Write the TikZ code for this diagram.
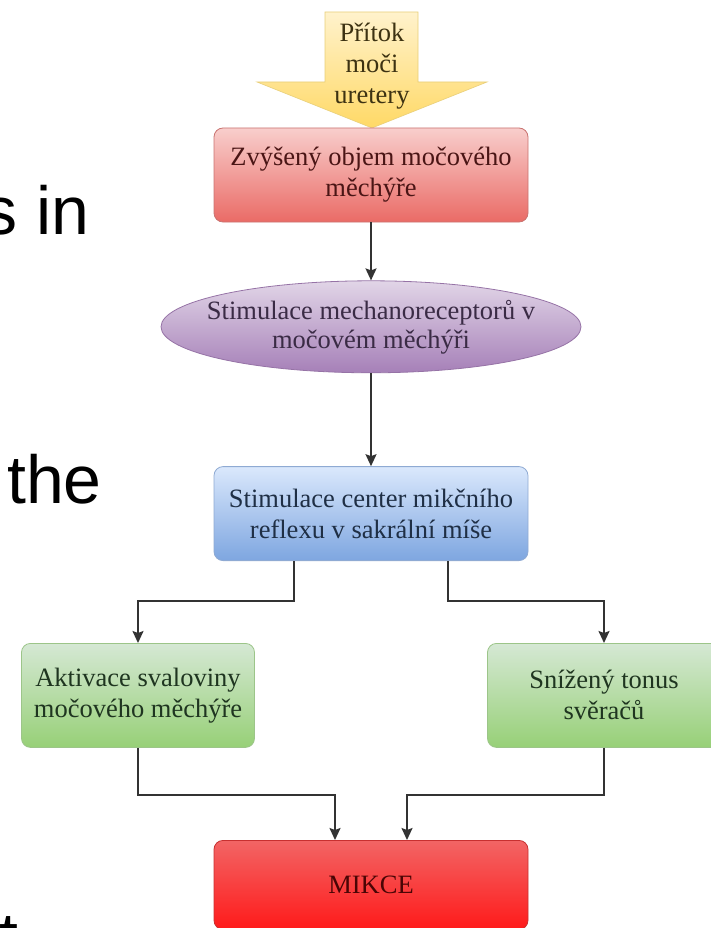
\documentclass[tikz,border=0pt]{standalone}
\usepackage{fontspec}
\setmainfont{Liberation Serif}
\newfontfamily\slidefont{Liberation Sans}
\usepackage{tikz}
\usetikzlibrary{arrows.meta,positioning,shapes.geometric,calc}
\definecolor{MXyelTop}{HTML}{FFF2CC}
\definecolor{MXyelBot}{HTML}{FFD966}
\definecolor{MXyelLine}{HTML}{E8CF7A}
\definecolor{MXyelText}{HTML}{3D3212}
\definecolor{MXredTop}{HTML}{F8CECC}
\definecolor{MXredBot}{HTML}{EA6B66}
\definecolor{MXredLine}{HTML}{C97370}
\definecolor{MXredText}{HTML}{4A1515}
\definecolor{MXpurTop}{HTML}{E1D5E7}
\definecolor{MXpurBot}{HTML}{A680B8}
\definecolor{MXpurLine}{HTML}{9673A6}
\definecolor{MXpurText}{HTML}{3A2B45}
\definecolor{MXbluTop}{HTML}{DAE8FC}
\definecolor{MXbluBot}{HTML}{7EA6E0}
\definecolor{MXbluLine}{HTML}{8FAAD3}
\definecolor{MXbluText}{HTML}{1F2F45}
\definecolor{MXgrnTop}{HTML}{D5E8D4}
\definecolor{MXgrnBot}{HTML}{97D077}
\definecolor{MXgrnLine}{HTML}{9CC589}
\definecolor{MXgrnText}{HTML}{1F3520}
\definecolor{MXmikTop}{HTML}{F26565}
\definecolor{MXmikBot}{HTML}{FF1A1A}
\definecolor{MXmikLine}{HTML}{C83030}
\definecolor{MXmikText}{HTML}{4A0505}
\definecolor{MXline}{HTML}{333333}
\tikzset{
  flowbox/.style={rounded corners=9pt,line width=0.8pt,align=center,inner sep=0pt,
                  font=\fontsize{26.5}{31}\selectfont,minimum width=314pt,minimum height=94pt},
  inflowtext/.style={align=center,inner sep=0pt,text=MXyelText,
                  font=\fontsize{26.5}{31}\selectfont},
  volume/.style={flowbox,draw=MXredLine,top color=MXredTop,bottom color=MXredBot,text=MXredText},
  receptor/.style={ellipse,line width=0.8pt,draw=MXpurLine,top color=MXpurTop,bottom color=MXpurBot,
                  text=MXpurText,align=center,inner xsep=-40pt,inner ysep=0pt,
                  font=\fontsize{26.5}{29}\selectfont,minimum width=420pt,minimum height=92pt},
  reflexbox/.style={flowbox,draw=MXbluLine,top color=MXbluTop,bottom color=MXbluBot,text=MXbluText},
  effect/.style={flowbox,draw=MXgrnLine,top color=MXgrnTop,bottom color=MXgrnBot,text=MXgrnText,
                  minimum width=233pt,minimum height=104pt},
  result/.style={flowbox,draw=MXmikLine,top color=MXmikTop,bottom color=MXmikBot,text=MXmikText,
                  minimum height=89pt},
  fl/.style={-{Stealth[length=12pt,width=11pt,inset=2pt]},line width=1.8pt,draw=MXline},
  slide/.style={font=\slidefont\fontsize{68}{80}\selectfont,inner sep=0pt,anchor=base west}
}
\begin{document}
\begin{tikzpicture}[x=1pt,y=-1pt]
  \useasboundingbox (0,0) rectangle (711,928);
  \clip (0,0) rectangle (711,928);
  % slide text cut off at the left
  \node[slide] (sin) at (-16.5,234) {s in};
  \node[slide] (the) at (7,503) {the};
  \node[slide] (tcut) at (-1,960) {t};

  % inflow arrow
  \shade[top color=MXyelTop,bottom color=MXyelBot,draw=MXyelLine,line width=0.6pt]
    (325,12) -- (418,12) -- (418,82) -- (487,82) -- (372,128) -- (257,82) -- (325,82) -- cycle;
  \node[inflowtext] (pritok) at (372,66) {Přítok\\moči\\uretery};

  \node[volume] (zvyseny) at (371,175) {Zvýšený objem močového\\měchýře};
  \node[receptor,below=58pt of zvyseny] (stimul) {Stimulace mechanoreceptorů v\\močovém měchýři};
  \node[reflexbox,below=93pt of stimul] (reflex) {Stimulace center mikčního\\reflexu v sakrální míše};
  \node[effect,below=82pt of reflex,xshift=-233pt] (aktiv) {Aktivace svaloviny\\močového měchýře};
  \node[effect,below=82pt of reflex,xshift=233pt] (tonus) {Snížený tonus\\svěračů};
  \node[result,below=279pt of reflex] (mikce) {MIKCE};

  \draw[fl] (zvyseny) -- (stimul);
  \draw[fl] (stimul) -- (reflex);
  \draw[fl] ([xshift=-77pt]reflex.south) -- ++(0,40) -| (aktiv.north);
  \draw[fl] ([xshift=77pt]reflex.south) -- ++(0,40) -| (tonus.north);
  \draw[fl] (aktiv.south) -- ++(0,47) -| ([xshift=-36pt]mikce.north);
  \draw[fl] (tonus.south) -- ++(0,47) -| ([xshift=36pt]mikce.north);
\end{tikzpicture}
\end{document}
